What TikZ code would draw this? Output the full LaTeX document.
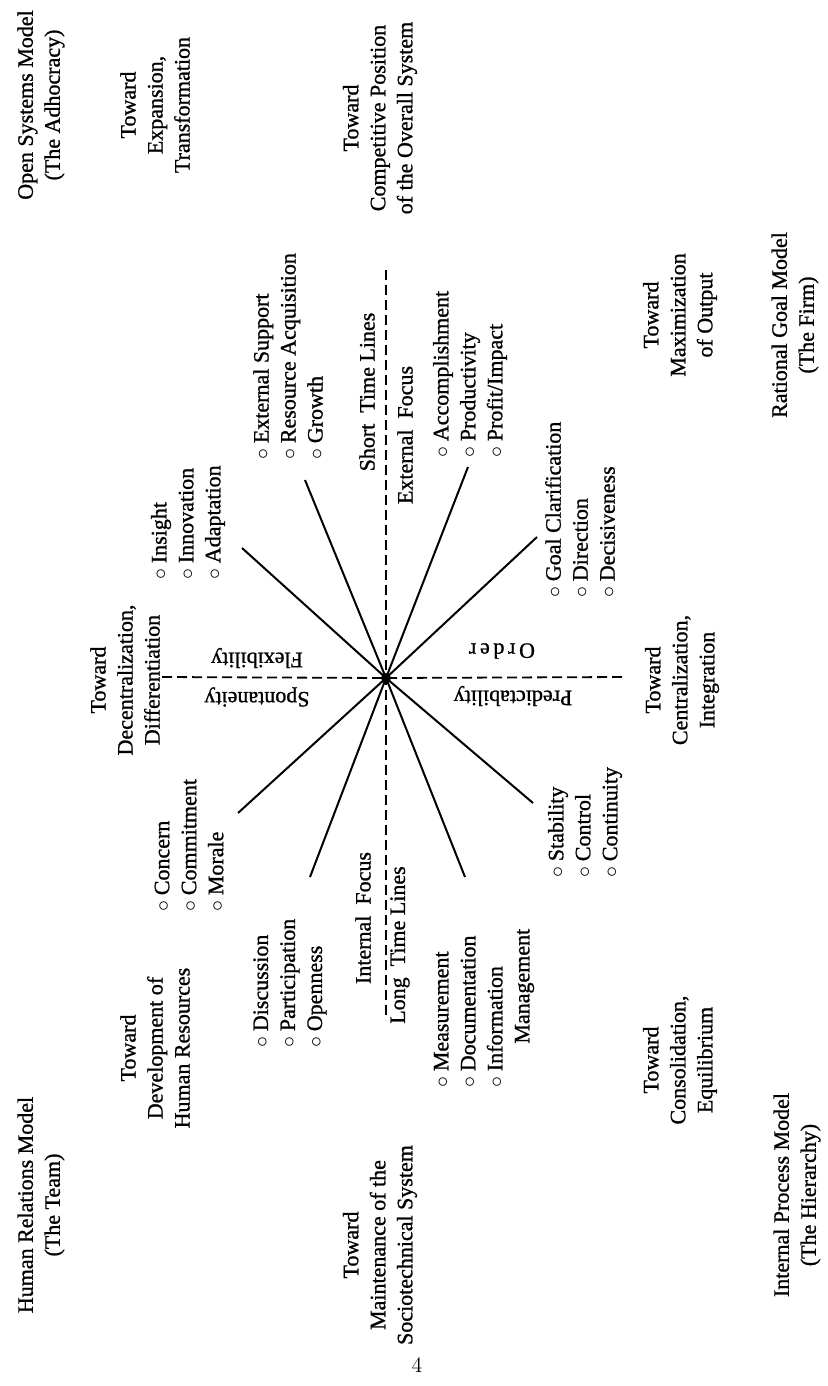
\documentclass[tikz,border=0pt]{standalone}
\usepackage{fontspec}
\newfontfamily\figfont[FakeBold=1]{Liberation Serif}
\usetikzlibrary{positioning}
\tikzset{
  lbl/.style={rotate=90, align=center, inner sep=0pt, font=\figfont\fontsize{11}{13.5}\selectfont},
  lst/.style={lbl, align=left, anchor=west},
  flip/.style={rotate=180, inner sep=0pt, font=\figfont\fontsize{11}{13.5}\selectfont},
  spoke/.style={line width=1pt},
  axis/.style={line width=0.9pt, dash pattern=on 5pt off 2.5pt},
}
\newcommand{\bul}{$\circ$\ }

\begin{document}
\begin{tikzpicture}[x=0.5pt, y=-0.5pt]
\useasboundingbox (0,0) rectangle (828,1386);

% hub and axes
\node[circle, fill, inner sep=0pt, minimum size=5pt] (hub) at (386,678) {};
\coordinate (axT) at (386,270);
\coordinate (axB) at (386,1020);
\coordinate (axL) at (162,677);
\coordinate (axR) at (623,677);
\draw[axis] (axT) -- (hub.center) -- (axB);
\draw[axis] (axL) -- (hub.center) -- (axR);

% spoke ends
\coordinate (eAdapt) at (242,548);
\coordinate (eGrowth) at (305,480);
\coordinate (eAccomp) at (468,467);
\coordinate (eGoal) at (537,537);
\coordinate (eMorale) at (238,813);
\coordinate (eOpen) at (310,877);
\coordinate (eMeas) at (465,877);
\coordinate (eStab) at (533,803);
\foreach \e in {eAdapt,eGrowth,eAccomp,eGoal,eMorale,eOpen,eMeas,eStab}
  \draw[spoke] (hub.center) -- (\e);

% axis labels
\node[lbl] (short) at (367,392) {Short\ \ Time Lines};
\node[lbl] (extf) at (405,435) {External\ \ Focus};
\node[lbl] (intf) at (363,918) {Internal\ \ Focus};
\node[lbl] (longt) at (400,945) {Long\ \ Time Lines};
\node[flip] (flex) at (257,658) {Flexibility};
\node[flip] (spont) at (257,697) {Spontaneity};
\node[flip] (order) at (502,651) {O\,r\,d\,e\,r};
\node[flip] (pred) at (513,696) {Predictability};

% value lists
\node[lst] (open1) at (188,580) {\bul Insight\\ \bul Innovation\\ \bul Adaptation};
\node[lst] (open2) at (288,460) {\bul External Support\\ \bul Resource Acquisition\\ \bul Growth};
\node[lst] (rat1) at (470,458) {\bul Accomplishment\\ \bul Productivity\\ \bul Profit/Impact};
\node[lst] (rat2) at (580,598) {\bul Goal Clarification\\ \bul Direction\\ \bul Decisiveness};
\node[lst] (hum1) at (189,912) {\bul Concern\\ \bul Commitment\\ \bul Morale};
\node[lst] (hum2) at (290,1048) {\bul Discussion\\ \bul Participation\\ \bul Openness};
\node[lst] (int1) at (484,1088) {\bul Measurement\\ \bul Documentation\\ \bul Information\\ \hspace*{2em}Management};
\node[lst] (int2) at (585,878) {\bul Stability\\ \bul Control\\ \bul Continuity};

% directions
\node[lbl] (twExp) at (155,105) {Toward\\ Expansion,\\ Transformation};
\node[lbl] (twDec) at (125,680) {Toward\\ Decentralization,\\ Differentiation};
\node[lbl] (twDev) at (155,1048) {Toward\\ Development of\\ Human Resources};
\node[lbl] (twComp) at (380,118) {Toward\\ Competitive Position\\ of the Overall System};
\node[lbl] (twMaint) at (380,1245) {Toward\\ Maintenance of the\\ Sociotechnical System};
\node[lbl] (twMax) at (680,315) {Toward\\ Maximization\\ of Output};
\node[lbl] (twCen) at (682,680) {Toward\\ Centralization,\\ Integration};
\node[lbl] (twCons) at (680,1060) {Toward\\ Consolidation,\\ Equilibrium};

% models
\node[lbl] (mOpen) at (41,105) {Open Systems Model\\ (The Adhocracy)};
\node[lbl] (mHum) at (41,1205) {Human Relations Model\\ (The Team)};
\node[lbl] (mRat) at (795,325) {Rational Goal Model\\ (The Firm)};
\node[lbl] (mInt) at (797,1195) {Internal Process Model\\ (The Hierarchy)};

\node[font=\fontsize{11}{13}\selectfont] (pg) at (417,1365) {4};
\end{tikzpicture}
\end{document}
